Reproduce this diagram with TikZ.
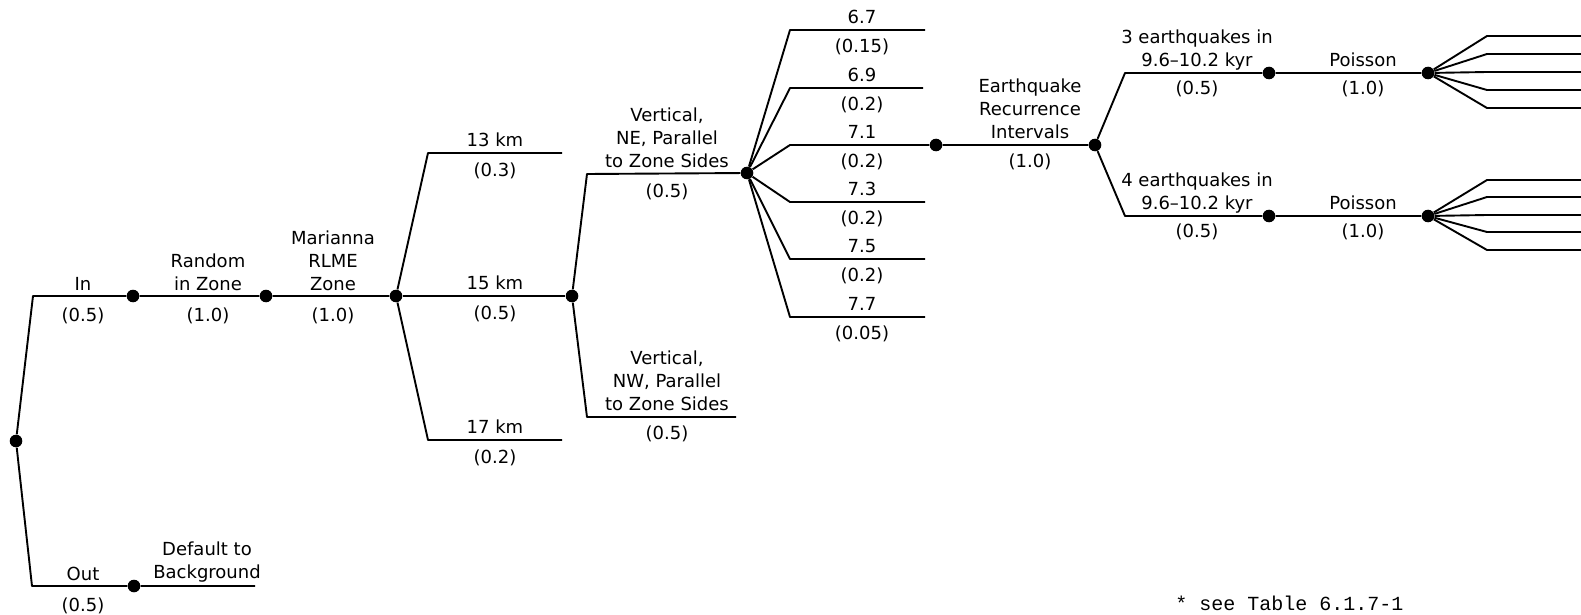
\documentclass[tikz,border=0pt]{standalone}
\usepackage{fontspec}
\setmainfont{DejaVu Sans}
\setmonofont{Liberation Mono}
\usepackage{tikz}
\usetikzlibrary{positioning}

\begin{document}
\begin{tikzpicture}[
    x=0.5pt, y=-0.5pt,
    branch/.style={line width=0.95pt, line join=round},
    dot/.style={circle, fill=black, inner sep=0pt, minimum size=6.3pt},
    lbl/.style={anchor=south, inner sep=0pt, align=center,
                font=\fontsize{9}{11.5}\selectfont},
    prob/.style={anchor=north, inner sep=0pt, font=\fontsize{9}{11}\selectfont},
    note/.style={anchor=south west, inner sep=0pt, font=\ttfamily\fontsize{10}{12}\selectfont}
  ]
    \useasboundingbox (0,0) rectangle (1581,615);

    % Source zone in / out
    \node[dot] (n0) at (16,441) {};
    \coordinate (inC) at (33,296);
    \node[dot] (n1) at (133,296) {};
    \node[dot] (n2) at (266,296) {};
    \node[dot] (n3) at (396,296) {};
    \coordinate (outC) at (32,586);
    \node[dot] (n1o) at (134,586) {};
    \coordinate (outE) at (255,586);
    \draw[branch] (n0) -- (inC) -- (n1) -- (n2) -- (n3);
    \draw[branch] (n0) -- (outC) -- (n1o) -- (outE);

    \node[lbl] (lIn) at (83,291) {In};
    \node[prob] (pIn) at (83,307) {(0.5)};
    \node[lbl] (lRand) at (208,291) {Random\\in Zone};
    \node[prob] (pRand) at (208,307) {(1.0)};
    \node[lbl] (lZone) at (333,291) {Marianna\\RLME\\Zone};
    \node[prob] (pZone) at (333,307) {(1.0)};
    \node[lbl] (lOut) at (83,581) {Out};
    \node[prob] (pOut) at (83,597) {(0.5)};
    \node[lbl] (lBack) at (207,583) {Default to\\Background};

    % Depth
    \coordinate (k13c) at (428,153);
    \coordinate (k13e) at (562,153);
    \node[dot] (n4) at (572,296) {};
    \coordinate (k17c) at (428,440);
    \coordinate (k17e) at (562,440);
    \draw[branch] (n3) -- (k13c) -- (k13e);
    \draw[branch] (n3) -- (n4);
    \draw[branch] (n3) -- (k17c) -- (k17e);

    \node[lbl] (l13) at (495,147) {13 km};
    \node[prob] (p13) at (495,162) {(0.3)};
    \node[lbl] (l15) at (495,290) {15 km};
    \node[prob] (p15) at (495,305) {(0.5)};
    \node[lbl] (l17) at (495,434) {17 km};
    \node[prob] (p17) at (495,449) {(0.2)};

    % Geometry
    \coordinate (neC) at (587,174);
    \node[dot] (n5) at (747,173) {};
    \coordinate (nwC) at (587,417);
    \coordinate (nwE) at (736,417);
    \draw[branch] (n4) -- (neC) -- (n5);
    \draw[branch] (n4) -- (nwC) -- (nwE);

    \node[lbl] (lNE) at (667,168) {Vertical,\\NE, Parallel\\to Zone Sides};
    \node[prob] (pNE) at (667,183) {(0.5)};
    \node[lbl] (lNW) at (667,411) {Vertical,\\NW, Parallel\\to Zone Sides};
    \node[prob] (pNW) at (667,425) {(0.5)};

    % Maximum magnitude
    \coordinate (m1) at (790,30);  \coordinate (e1) at (925,30);
    \coordinate (m2) at (790,88);  \coordinate (e2) at (923,88);
    \coordinate (m3) at (790,145);
    \coordinate (m4) at (790,202); \coordinate (e4) at (925,202);
    \coordinate (m5) at (790,259); \coordinate (e5) at (925,259);
    \coordinate (m6) at (790,317); \coordinate (e6) at (925,317);
    \node[dot] (n6) at (936,145) {};
    \node[dot] (n7) at (1095,145) {};
    \draw[branch] (n5) -- (m1) -- (e1);
    \draw[branch] (n5) -- (m2) -- (e2);
    \draw[branch] (n5) -- (m3) -- (n6) -- (n7);
    \draw[branch] (n5) -- (m4) -- (e4);
    \draw[branch] (n5) -- (m5) -- (e5);
    \draw[branch] (n5) -- (m6) -- (e6);

    \node[lbl] (l67) at (862,24) {6.7};
    \node[prob] (p67) at (862,38) {(0.15)};
    \node[lbl] (l69) at (862,82) {6.9};
    \node[prob] (p69) at (862,96) {(0.2)};
    \node[lbl] (l71) at (862,139) {7.1};
    \node[prob] (p71) at (862,153) {(0.2)};
    \node[lbl] (l73) at (862,196) {7.3};
    \node[prob] (p73) at (862,210) {(0.2)};
    \node[lbl] (l75) at (862,253) {7.5};
    \node[prob] (p75) at (862,267) {(0.2)};
    \node[lbl] (l77) at (862,311) {7.7};
    \node[prob] (p77) at (862,325) {(0.05)};

    \node[lbl] (lRec) at (1030,139) {Earthquake\\Recurrence\\Intervals};
    \node[prob] (pRec) at (1030,153) {(1.0)};

    % Recurrence
    \coordinate (r3c) at (1125,73);
    \node[dot] (n8) at (1269,73) {};
    \node[dot] (n9) at (1428,73) {};
    \coordinate (r4c) at (1125,216);
    \node[dot] (n10) at (1269,216) {};
    \node[dot] (n11) at (1428,216) {};
    \draw[branch] (n7) -- (r3c) -- (n8) -- (n9);
    \draw[branch] (n7) -- (r4c) -- (n10) -- (n11);
    \foreach \y [count=\i] in {36,54,72,90,108} {
      \coordinate (fa\i) at (1487,\y);
      \coordinate (ga\i) at (1581,\y);
      \draw[branch] (n9) -- (fa\i) -- (ga\i);
    }
    \foreach \y [count=\i] in {180,197,215,232,250} {
      \coordinate (fb\i) at (1487,\y);
      \coordinate (gb\i) at (1581,\y);
      \draw[branch] (n11) -- (fb\i) -- (gb\i);
    }

    \node[lbl] (l3eq) at (1197,71) {3 earthquakes in\\9.6--10.2 kyr};
    \node[prob] (p3eq) at (1197,80) {(0.5)};
    \node[lbl] (lPo1) at (1363,67) {Poisson};
    \node[prob] (pPo1) at (1363,80) {(1.0)};
    \node[lbl] (l4eq) at (1197,214) {4 earthquakes in\\9.6--10.2 kyr};
    \node[prob] (p4eq) at (1197,223) {(0.5)};
    \node[lbl] (lPo2) at (1363,210) {Poisson};
    \node[prob] (pPo2) at (1363,223) {(1.0)};

    \node[note] (foot) at (1175,611) {* see Table 6.1.7-1};
  \end{tikzpicture}
\end{document}
